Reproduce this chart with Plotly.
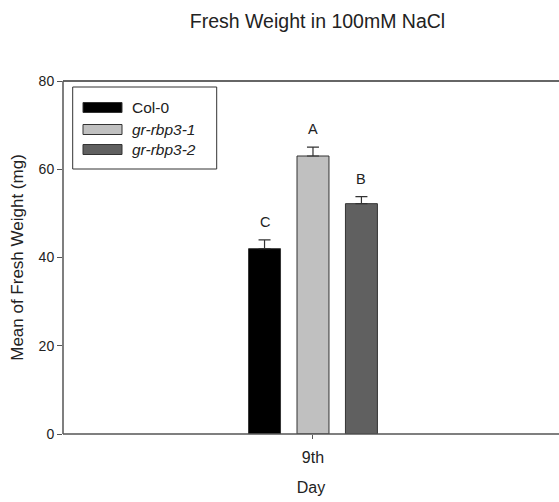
import plotly.graph_objects as go

categories = ["9th"]
series_names = ["Col-0", "gr-rbp3-1", "gr-rbp3-2"]
series_labels = ["Col-0", "<i>gr-rbp3-1</i>", "<i>gr-rbp3-2</i>"]
means = [42.0, 63.0, 52.2]
errors = [2.0, 2.0, 1.6]
letters = ["C", "A", "B"]
colors = ["#000000", "#c0c0c0", "#606060"]
y_ticks = [0, 20, 40, 60, 80]

FONT = "Liberation Sans, Arial, sans-serif"
bargap = 0.707
groupgap = 0.34

fig = go.Figure()
for name, m, e, c in zip(series_names, means, errors, colors):
    fig.add_trace(go.Bar(
        x=categories, y=[m], name=name,
        marker=dict(color=c, line=dict(color="#333333", width=1)),
        error_y=dict(type="data", array=[e], visible=True, color="#333333",
                     thickness=1.2, width=6, symmetric=False, arrayminus=[0]),
        showlegend=False,
    ))

n = len(series_names)
slot = (1 - bargap) / n
for i, (m, e, L) in enumerate(zip(means, errors, letters)):
    fig.add_annotation(x=(i - (n - 1) / 2) * slot, y=m + e, xref="x", yref="y",
                       text=L, showarrow=False, yshift=18,
                       font=dict(family=FONT, size=14.5, color="#222"))

# manual legend
W, H = 559, 502
ml, mr, mt, mb = 63, 0, 81, 68
pw, ph = W - ml - mr, H - mt - mb
def px(x): return (x - ml) / pw
def py(y): return 1 - (y - mt) / ph
fig.add_shape(type="rect", xref="paper", yref="paper",
              x0=px(72.7), x1=px(216.7), y0=py(169), y1=py(87),
              line=dict(color="#333333", width=1), fillcolor="white")
rows = [107.5, 129.5, 149.5]
for yc, c, lab in zip(rows, colors, series_labels):
    fig.add_shape(type="rect", xref="paper", yref="paper",
                  x0=px(83), x1=px(122), y0=py(yc + 5), y1=py(yc - 5),
                  line=dict(color="#333333", width=1), fillcolor=c)
    fig.add_annotation(xref="paper", yref="paper", x=px(130), y=py(yc),
                       text=lab, showarrow=False, xanchor="left", yanchor="middle",
                       font=dict(family=FONT, size=15.5, color="#222"))

# cover for the right edge (reference is cut off there, no right frame)
fig.add_shape(type="line", xref="paper", yref="paper", x0=1, x1=1, y0=0.004, y1=0.996,
              line=dict(color="white", width=4), layer="above")
# frame lines: top, bottom, left (drawn as shapes)
fig.add_shape(type="line", xref="paper", yref="paper", x0=0, x1=1, y0=1, y1=1,
              line=dict(color="#333333", width=1.5), layer="above")
fig.add_shape(type="line", xref="paper", yref="paper", x0=0, x1=1, y0=0, y1=0,
              line=dict(color="#555555", width=1.5), layer="above")
fig.add_shape(type="line", xref="paper", yref="paper", x0=0, x1=0, y0=0, y1=1,
              line=dict(color="#555555", width=1.5), layer="above")

fig.update_layout(
    template="none",
    width=W, height=H,
    margin=dict(l=ml, r=mr, t=mt, b=mb),
    paper_bgcolor="white", plot_bgcolor="white",
    barmode="group", bargap=bargap, bargroupgap=groupgap,
    title=dict(text="Fresh Weight in 100mM NaCl", x=317.5 / W, xanchor="center",
               y=1 - 21 / H, yanchor="middle",
               font=dict(family=FONT, size=19.5, color="#222")),
    font=dict(family=FONT, color="#222"),
)
fig.update_xaxes(type="category", range=[-0.504, 0.496], showline=False,
                 ticks="outside", ticklen=4, tickcolor="#555555",
                 ticklabelstandoff=5,
                 tickfont=dict(family=FONT, size=16, color="#222"),
                 title=dict(text="Day", font=dict(family=FONT, size=16, color="#222"), standoff=16),
                 showgrid=False, zeroline=False)
fig.update_yaxes(range=[0, 80], tickvals=y_ticks, showline=False,
                 ticks="outside", ticklen=5, tickcolor="#555555",
                 tickfont=dict(family=FONT, size=14, color="#222"),
                 title=dict(text="Mean of Fresh Weight (mg)",
                            font=dict(family=FONT, size=17, color="#222"), standoff=10),
                 showgrid=False, zeroline=False)

fig.write_html("out.html")
